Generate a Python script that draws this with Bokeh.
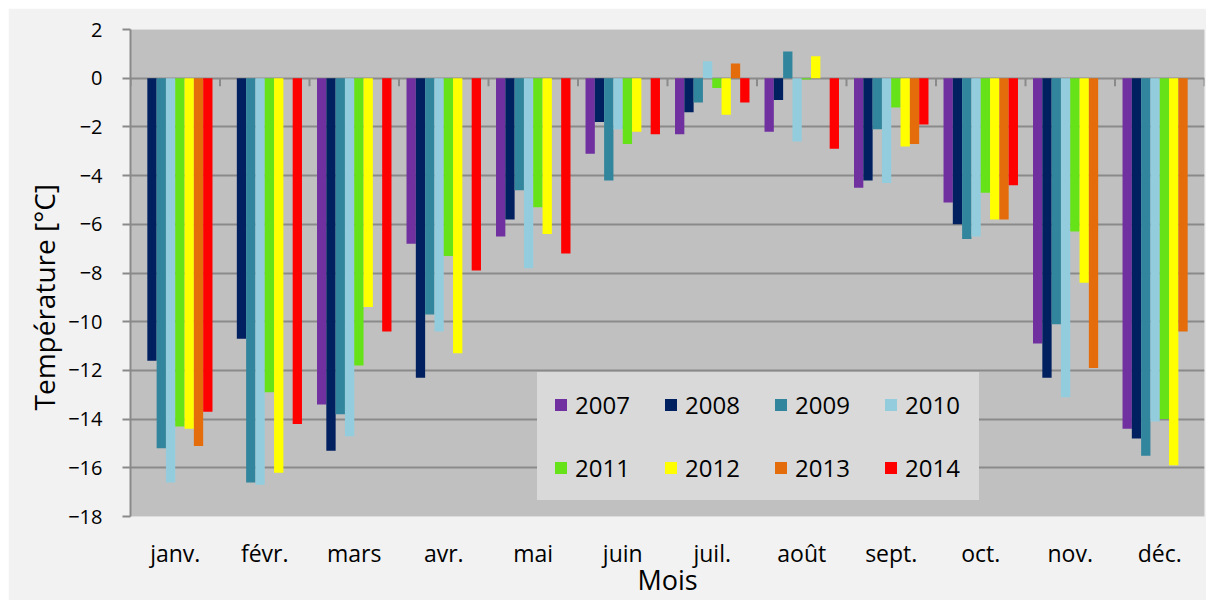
import numpy as np
from bokeh.plotting import figure
from bokeh.models import (ColumnDataSource, FactorRange, Range1d, Legend, LegendItem,
                          FixedTicker, Title)
from bokeh.transform import dodge
from bokeh.embed import file_html
from bokeh.resources import INLINE

months = ["janv.", "févr.", "mars", "avr.", "mai", "juin", "juil.", "août",
          "sept.", "oct.", "nov.", "déc."]
years = ["2007", "2008", "2009", "2010", "2011", "2012", "2013", "2014"]
colors = ["#7030a0", "#002060", "#31859c", "#93cddd", "#66e318", "#ffff00",
          "#e46c0a", "#ff0000"]

v2007 = [None, None, -13.4, -6.8, -6.5, -3.1, -2.3, -2.2, -4.5, -5.1, -10.9, -14.4]
v2008 = [-11.6, -10.7, -15.3, -12.3, -5.8, -1.8, -1.4, -0.9, -4.2, -6.0, -12.3, -14.8]
v2009 = [-15.2, -16.6, -13.8, -9.7, -4.6, -4.2, -1.0, 1.1, -2.1, -6.6, -10.1, -15.5]
v2010 = [-16.6, -16.7, -14.7, -10.4, -7.8, -2.1, 0.7, -2.6, -4.3, -6.5, -13.1, -14.1]
v2011 = [-14.3, -12.9, -11.8, -7.3, -5.3, -2.7, -0.4, -0.05, -1.2, -4.7, -6.3, -14.0]
v2012 = [-14.4, -16.2, -9.4, -11.3, -6.4, -2.2, -1.5, 0.9, -2.8, -5.8, -8.4, -15.9]
v2013 = [-15.1, None, None, None, None, None, 0.6, None, -2.7, -5.8, -11.9, -10.4]
v2014 = [-13.7, -14.2, -10.4, -7.9, -7.2, -2.3, -1.0, -2.9, -1.9, -4.4, None, None]

y_ticks = list(range(-18, 3, 2))
y_title = "Température  [°C]"
x_title = "Mois"

series = [v2007, v2008, v2009, v2010, v2011, v2012, v2013, v2014]

def arr(v):
    return np.array([np.nan if x is None else x for x in v], dtype=float)

data = {"month": months}
for yr, vals in zip(years, series):
    data["y" + yr] = arr(vals)
source = ColumnDataSource(data)

FONT = "Open Sans"
GRID = "#8a8a8a"

p = figure(width=1198, height=592, x_range=FactorRange(*months),
           y_range=Range1d(-18, 2), output_backend="svg", toolbar_location=None,
           min_border_left=122, min_border_right=2, min_border_top=21,
           min_border_bottom=70)
p.margin = (8, 0, 0, 8)
p.background_fill_color = "#c0c0c0"
p.border_fill_color = "#f2f2f2"
p.outline_line_color = None
p.x_range.range_padding = 0
p.x_range.factor_padding = 0

bw = 0.104
renderers = []
for i, (yr, col) in enumerate(zip(years, colors)):
    r = p.vbar(x=dodge("month", (i - 3.5) * bw, range=p.x_range), top="y" + yr,
               bottom=0, width=bw, fill_color=col, line_color=None, source=source)
    renderers.append(r)

# grid
p.xgrid.grid_line_color = None
p.ygrid.grid_line_color = GRID
p.ygrid.grid_line_width = 2

# category boundary ticks on the zero line
edges = list(range(len(months) + 1))
p.segment(x0=edges, y0=[0] * len(edges), x1=edges, y1=[-0.33] * len(edges),
          line_color=GRID, line_width=2)

# y axis
yax = p.yaxis[0]
yax.ticker = FixedTicker(ticks=y_ticks)
yax.axis_line_color = GRID
yax.axis_line_width = 2
yax.major_tick_line_color = GRID
yax.major_tick_line_width = 2
yax.major_tick_in = 0
yax.major_tick_out = 8
yax.minor_tick_line_color = None
yax.major_label_standoff = 20
yax.major_label_text_font = FONT
yax.major_label_text_font_size = "20px"
yax.major_label_text_color = "#000000"

ytitle = Title(text=y_title, align="left", offset=106, text_font=FONT,
               text_font_size="28px", text_font_style="normal",
               text_color="#000000", standoff=6)
p.add_layout(ytitle, "left")

# x axis
xax = p.xaxis[0]
xax.axis_line_color = None
xax.major_tick_line_color = None
xax.minor_tick_line_color = None
xax.major_tick_out = 0
xax.major_tick_in = 0
xax.major_label_standoff = 20
xax.major_label_text_font = FONT
xax.major_label_text_font_size = "23px"
xax.major_label_text_color = "#000000"
xax.axis_label = x_title
xax.axis_label_text_font = FONT
xax.axis_label_text_font_size = "27px"
xax.axis_label_text_font_style = "normal"
xax.axis_label_text_color = "#000000"
xax.axis_label_standoff = -11

legend = Legend(items=[LegendItem(label=yr, renderers=[r]) for yr, r in zip(years, renderers)],
                location=(407, 16), orientation="horizontal", ncols=4,
                glyph_width=15, glyph_height=15, label_standoff=7, spacing=30,
                label_width=58, padding=15, margin=0, label_text_font=FONT,
                label_text_font_size="24px", label_text_color="#000000",
                background_fill_color="#d9d9d9", background_fill_alpha=1,
                border_line_color="#d9d9d9", border_line_width=1)
p.add_layout(legend)

open("out.html", "w").write(file_html(p, INLINE))
